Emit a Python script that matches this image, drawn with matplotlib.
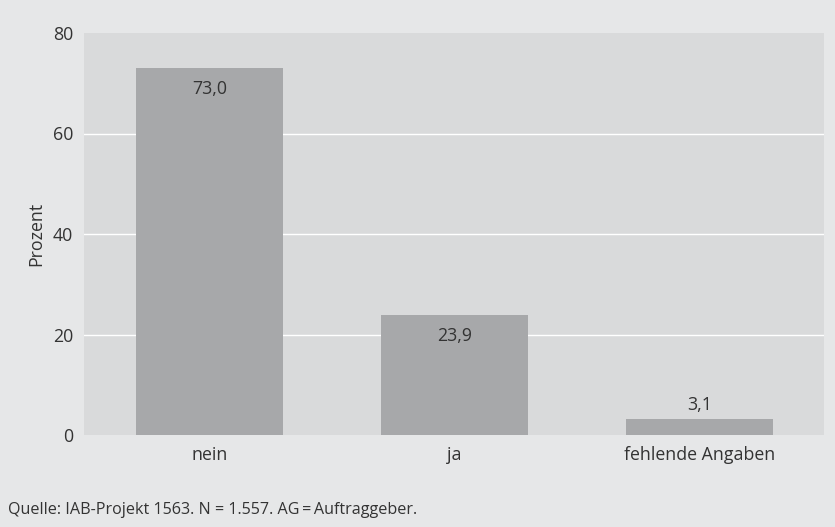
import matplotlib
matplotlib.use("Agg")
import matplotlib.pyplot as plt

# data
categories = ["nein", "ja", "fehlende Angaben"]
values = [73.0, 23.9, 3.1]
value_labels = ["73,0", "23,9", "3,1"]
yticks = [0, 20, 40, 60, 80]
source = "Quelle: IAB-Projekt 1563. N = 1.557. AG\u2009=\u2009Auftraggeber."

plt.rcParams['font.family'] = ['Open Sans', 'DejaVu Sans']

fig_bg = "#e6e7e8"
ax_bg = "#d9dadb"
bar_col = "#a7a8aa"
txt_col = "#333333"
fs = 12.8

fig = plt.figure(figsize=(8.35, 5.27), dpi=100, facecolor=fig_bg)
ax = fig.add_axes([84 / 835, 1 - 435 / 527, 740 / 835, 402 / 527])
ax.set_facecolor(ax_bg)

x = list(range(len(categories)))
ax.bar(x, values, width=0.6, color=bar_col, zorder=3)

for xi, v, lab in zip(x, values, value_labels):
    if v > 10:
        ax.text(xi, v - 4.2, lab, ha="center", va="center", fontsize=fs, color=txt_col, zorder=4)
    else:
        ax.text(xi, v + 2.9, lab, ha="center", va="center", fontsize=fs, color=txt_col, zorder=4)

ax.set_xlim(-0.512, 2.508)
ax.set_ylim(0, 80)
ax.set_yticks(yticks)
ax.set_xticks(x)
ax.set_xticklabels(categories)
ax.tick_params(length=0, labelsize=fs, colors=txt_col, pad=8)
# white grid lines only between the bottom and top edge
for yv in yticks[1:-1]:
    ax.axhline(yv, color="white", linewidth=1, zorder=1)
for s in ax.spines.values():
    s.set_visible(False)
ax.set_ylabel("Prozent", fontsize=fs, color=txt_col, labelpad=5)

fig.text(8 / 835, 1 - 510 / 527, source, ha="left", va="center", fontsize=11.6, color=txt_col)

fig.savefig("out.png", dpi=100, facecolor=fig_bg)
